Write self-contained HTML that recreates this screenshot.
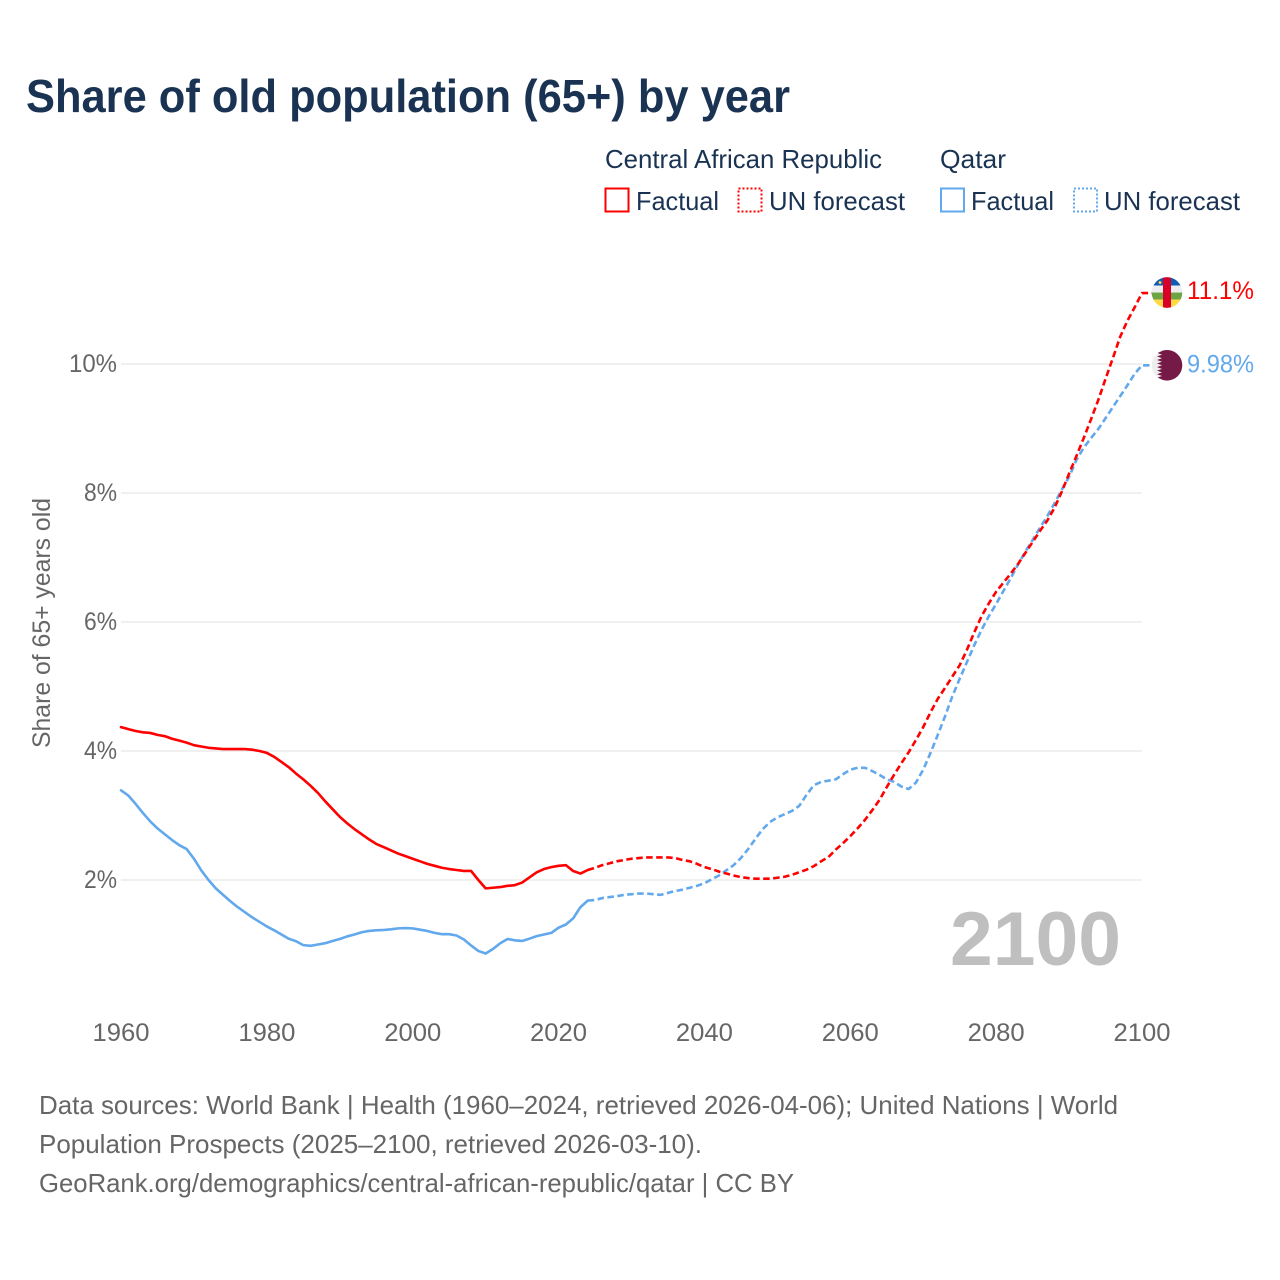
<!DOCTYPE html>
<html lang="en">
<head>
<meta charset="utf-8">
<title>Share of old population (65+) by year</title>
<style>
html,body{margin:0;padding:0;background:#fff;}
svg{display:block;font-family:"Liberation Sans",sans-serif;}
</style>
</head>
<body>
<svg id="chart" xmlns="http://www.w3.org/2000/svg" width="1280" height="1280" viewBox="0 0 1280 1280">
  <defs>
    <clipPath id="flag-clip"><circle cx="0" cy="0" r="15.3"/></clipPath>
  </defs>
  <text x="26" y="112" font-size="46" font-weight="700" fill="#1a3353" textLength="764" lengthAdjust="spacingAndGlyphs">Share of old population (65+) by year</text>

  <g font-size="26" fill="#1a3353">
    <text x="605" y="168" textLength="277" lengthAdjust="spacingAndGlyphs">Central African Republic</text>
    <text x="940" y="168" textLength="66" lengthAdjust="spacingAndGlyphs">Qatar</text>
    <rect x="605.5" y="188.5" width="23" height="23" fill="none" stroke="#ff0000" stroke-width="2"/>
    <text x="636" y="210" textLength="83" lengthAdjust="spacingAndGlyphs">Factual</text>
    <rect x="738.5" y="188.5" width="23" height="23" fill="none" stroke="#ff0000" stroke-width="2" stroke-dasharray="2,2"/>
    <text x="769" y="210" textLength="136" lengthAdjust="spacingAndGlyphs">UN forecast</text>
    <rect x="941" y="188.5" width="23" height="23" fill="none" stroke="#62a8ec" stroke-width="2"/>
    <text x="971" y="210" textLength="83" lengthAdjust="spacingAndGlyphs">Factual</text>
    <rect x="1074" y="188.5" width="23" height="23" fill="none" stroke="#62a8ec" stroke-width="2" stroke-dasharray="2,2"/>
    <text x="1104" y="210" textLength="136" lengthAdjust="spacingAndGlyphs">UN forecast</text>
  </g>

  <g id="grid"></g>
  <g id="y-ticks"></g>
  <g id="x-ticks"></g>
  <text transform="translate(50,623) rotate(-90)" text-anchor="middle" font-size="25" fill="#666666" textLength="250" lengthAdjust="spacingAndGlyphs">Share of 65+ years old</text>

  <text id="year-label" x="950" y="965" font-size="76" font-weight="700" fill="#bfbfbf" textLength="171" lengthAdjust="spacingAndGlyphs">2100</text>

  <g id="series"></g>

  <g id="flag-car">
    <g clip-path="url(#flag-clip)">
      <rect x="-16" y="-16" width="32" height="9" fill="#0f5cb0"/>
      <rect x="-16" y="-7" width="32" height="7" fill="#eeeeee"/>
      <rect x="-16" y="0" width="32" height="7" fill="#6da544"/>
      <rect x="-16" y="7" width="32" height="9" fill="#ffda44"/>
      <rect x="-4" y="-16" width="8" height="32" fill="#d80027"/>
      <circle cx="-7" cy="-10" r="1.4" fill="#ffda44"/>
    </g>
  </g>
  <g id="flag-qatar">
    <g clip-path="url(#flag-clip)">
      <rect x="-16" y="-16" width="32" height="32" fill="#eeeeee"/>
      <polygon fill="#751a46" points="16,-16 16,16 -10,16 -5,14.2 -10,12.4 -5,10.7 -10,8.9 -5,7.1 -10,5.3 -5,3.6 -10,1.8 -5,0 -10,-1.8 -5,-3.6 -10,-5.3 -5,-7.1 -10,-8.9 -5,-10.7 -10,-12.4 -5,-14.2 -10,-16"/>
    </g>
  </g>
  <text id="end-label-car" x="1187" font-size="25" fill="#ff0000" textLength="67" lengthAdjust="spacingAndGlyphs"></text>
  <text id="end-label-qatar" x="1187" font-size="25" fill="#62a8ec" textLength="67" lengthAdjust="spacingAndGlyphs"></text>

  <g font-size="26" fill="#666666">
    <text x="39" y="1114" textLength="1079" lengthAdjust="spacingAndGlyphs">Data sources: World Bank | Health (1960–2024, retrieved 2026-04-06); United Nations | World</text>
    <text x="39" y="1153" textLength="663" lengthAdjust="spacingAndGlyphs">Population Prospects (2025–2100, retrieved 2026-03-10).</text>
    <text x="39" y="1192" textLength="755" lengthAdjust="spacingAndGlyphs">GeoRank.org/demographics/central-african-republic/qatar | CC BY</text>
  </g>
</svg>
<script>
const years = [
  1960,1961,1962,1963,1964,1965,1966,1967,1968,1969,
  1970,1971,1972,1973,1974,1975,1976,1977,1978,1979,
  1980,1981,1982,1983,1984,1985,1986,1987,1988,1989,
  1990,1991,1992,1993,1994,1995,1996,1997,1998,1999,
  2000,2001,2002,2003,2004,2005,2006,2007,2008,2009,
  2010,2011,2012,2013,2014,2015,2016,2017,2018,2019,
  2020,2021,2022,2023,2024,2025,2026,2027,2028,2029,
  2030,2031,2032,2033,2034,2035,2036,2037,2038,2039,
  2040,2041,2042,2043,2044,2045,2046,2047,2048,2049,
  2050,2051,2052,2053,2054,2055,2056,2057,2058,2059,
  2060,2061,2062,2063,2064,2065,2066,2067,2068,2069,
  2070,2071,2072,2073,2074,2075,2076,2077,2078,2079,
  2080,2081,2082,2083,2084,2085,2086,2087,2088,2089,
  2090,2091,2092,2093,2094,2095,2096,2097,2098,2099,
  2100
];
const carValues = [
  4.37,4.34,4.31,4.29,4.28,4.25,4.23,4.19,4.16,4.13,
  4.09,4.07,4.05,4.04,4.03,4.03,4.03,4.03,4.02,4.00,
  3.97,3.91,3.83,3.75,3.65,3.56,3.46,3.35,3.22,3.10,
  2.98,2.88,2.79,2.71,2.63,2.56,2.51,2.46,2.41,2.37,
  2.33,2.29,2.25,2.22,2.19,2.17,2.155,2.14,2.14,2.00,
  1.87,1.88,1.89,1.91,1.92,1.96,2.04,2.12,2.17,2.20,
  2.22,2.23,2.14,2.10,2.155,2.19,2.23,2.26,2.29,2.31,
  2.33,2.34,2.35,2.35,2.35,2.35,2.34,2.31,2.29,2.25,
  2.20,2.17,2.13,2.10,2.07,2.045,2.03,2.02,2.02,2.02,
  2.035,2.05,2.08,2.12,2.16,2.215,2.29,2.355,2.47,2.57,
  2.68,2.80,2.93,3.08,3.24,3.44,3.63,3.81,3.98,4.17,
  4.37,4.60,4.81,4.98,5.155,5.33,5.57,5.84,6.09,6.29,
  6.47,6.61,6.75,6.90,7.07,7.24,7.41,7.57,7.77,8.02,
  8.30,8.57,8.85,9.14,9.44,9.77,10.09,10.42,10.67,10.88,
  11.10
];
const qatarValues = [
  3.39,3.31,3.18,3.04,2.91,2.80,2.71,2.62,2.54,2.48,
  2.33,2.15,2.00,1.87,1.77,1.67,1.58,1.50,1.42,1.35,
  1.28,1.22,1.155,1.09,1.05,0.99,0.98,1.00,1.02,1.055,
  1.085,1.125,1.155,1.19,1.21,1.22,1.225,1.235,1.25,1.255,
  1.25,1.23,1.21,1.18,1.16,1.16,1.14,1.08,0.985,0.90,
  0.86,0.93,1.02,1.085,1.065,1.055,1.09,1.13,1.155,1.18,
  1.26,1.31,1.405,1.58,1.68,1.69,1.72,1.735,1.75,1.77,
  1.78,1.79,1.79,1.78,1.77,1.80,1.83,1.85,1.88,1.91,
  1.95,2.01,2.07,2.15,2.23,2.34,2.48,2.64,2.79,2.90,
  2.97,3.02,3.07,3.15,3.32,3.47,3.52,3.54,3.56,3.64,
  3.71,3.74,3.74,3.69,3.63,3.56,3.52,3.45,3.41,3.51,
  3.71,3.97,4.25,4.54,4.85,5.12,5.38,5.64,5.88,6.09,
  6.28,6.48,6.68,6.89,7.09,7.27,7.46,7.64,7.84,8.05,
  8.25,8.51,8.70,8.85,8.99,9.16,9.33,9.50,9.67,9.85,
  9.98
];
const lastFactualYear = [2024];
const yTickValues = [2, 4, 6, 8, 10];
const yTickLabels = ["2%", "4%", "6%", "8%", "10%"];
const xTickValues = [1960, 1980, 2000, 2020, 2040, 2060, 2080, 2100];
const xTickLabels = ["1960", "1980", "2000", "2020", "2040", "2060", "2080", "2100"];
const endLabels = ["11.1%", "9.98%"];

const NS = "http://www.w3.org/2000/svg";
function xScale(year) { return 121 + (year - 1960) * (1021 / 140); }
function yScale(v) { return 880 - (v - 2) * 64.5; }
function make(tag, attrs, parent) {
  const el = document.createElementNS(NS, tag);
  for (const k in attrs) el.setAttribute(k, attrs[k]);
  parent.appendChild(el);
  return el;
}

const gridG = document.getElementById("grid");
const yTickG = document.getElementById("y-ticks");
yTickValues.forEach(function (v, i) {
  const line = make("line", { x1: 121, x2: 1142, y1: yScale(v), y2: yScale(v), stroke: "#e8e8e8", "stroke-width": 1.3 }, gridG);
  
  
  const label = make("text", { x: 117, y: yScale(v) + 8, "text-anchor": "end", "font-size": 25, fill: "#666666" }, yTickG);
  
  
  label.setAttribute('textLength', yTickLabels[i].length === 3 ? 48 : 33);
  label.setAttribute('lengthAdjust', 'spacingAndGlyphs');
  label.textContent = yTickLabels[i];
});

const xTickG = document.getElementById("x-ticks");
xTickValues.forEach(function (yr, i) {
  const label = make("text", { x: xScale(yr), y: 1041, "text-anchor": "middle", "font-size": 25, fill: "#666666" }, xTickG);
  
  
  label.setAttribute('textLength', 57);
  label.setAttribute('lengthAdjust', 'spacingAndGlyphs');
  label.textContent = xTickLabels[i];
});

function pathFor(values, fromYear, toYear) {
  let d = "";
  years.forEach(function (yr, i) {
    if (yr < fromYear || yr > toYear) return;
    d += (d ? "L" : "M") + xScale(yr).toFixed(2) + " " + yScale(values[i]).toFixed(2);
  });
  return d;
}

const seriesG = document.getElementById("series");
function drawSeries(values, color, key) {
  const split = lastFactualYear[0];
  const lastYear = years[years.length - 1];
  const lastY = yScale(values[values.length - 1]);
  const factual = make("path", { d: pathFor(values, years[0], split), fill: "none", stroke: color, "stroke-width": 2.6, "stroke-linejoin": "round", "stroke-linecap": "round" }, seriesG);
  
  
  const forecastD = pathFor(values, split, lastYear) + "L" + (xScale(lastYear) + 10) + " " + lastY.toFixed(2);
  const forecast = make("path", { d: forecastD, fill: "none", stroke: color, "stroke-width": 2.6, "stroke-dasharray": "6.5,3.5", "stroke-linejoin": "round" }, seriesG);
  
  
  return lastY;
}
const qatarEndY = drawSeries(qatarValues, "#62a8ec", "qatar");
const carEndY = drawSeries(carValues, "#ff0000", "central-african-republic");

document.getElementById("flag-car").setAttribute("transform", "translate(1167," + (carEndY - 0.5) + ")");
document.getElementById("flag-qatar").setAttribute("transform", "translate(1167," + qatarEndY + ")");
const carLabel = document.getElementById("end-label-car");
carLabel.setAttribute("y", carEndY + 6);
carLabel.textContent = endLabels[0];
const qatarLabel = document.getElementById("end-label-qatar");
qatarLabel.setAttribute("y", qatarEndY + 7);
qatarLabel.textContent = endLabels[1];
</script>
</body>
</html>
